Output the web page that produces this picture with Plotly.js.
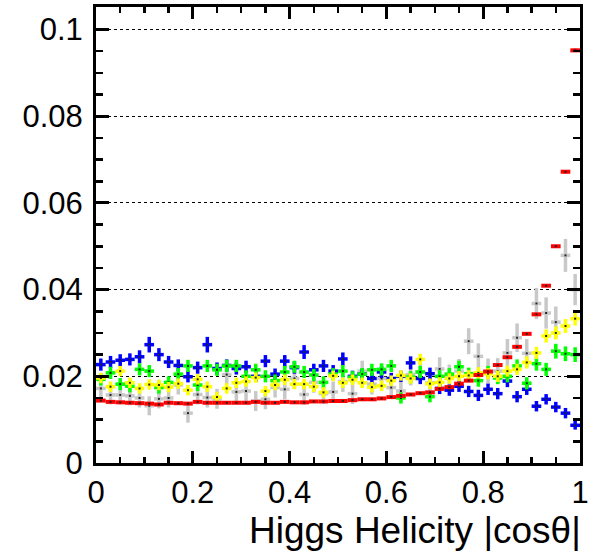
<!DOCTYPE html>
<html>
<head>
<meta charset="utf-8">
<script src="https://cdn.plot.ly/plotly-3.0.1.min.js"></script>
<style>html,body{margin:0;padding:0;background:#fff;}#chart{width:590px;height:554px;}</style>
</head>
<body>
<div id="chart"></div>
<script>
// Bin centres of |cos theta| (50 bins of width 0.02)
const binCentres = [0.01,0.03,0.05,0.07,0.09,0.11,0.13,0.15,0.17,0.19,
  0.21,0.23,0.25,0.27,0.29,0.31,0.33,0.35,0.37,0.39,
  0.41,0.43,0.45,0.47,0.49,0.51,0.53,0.55,0.57,0.59,
  0.61,0.63,0.65,0.67,0.69,0.71,0.73,0.75,0.77,0.79,
  0.81,0.83,0.85,0.87,0.89,0.91,0.93,0.95,0.97,0.99];

const redValues = [0.0144,0.0141,0.0140,0.0139,0.0138,0.0137,0.0135,0.0139,0.0138,0.0137,
  0.0141,0.0139,0.0139,0.0139,0.0139,0.0139,0.0141,0.0139,0.0139,0.0141,
  0.0140,0.0140,0.0142,0.0142,0.0143,0.0143,0.0145,0.0147,0.0147,0.0149,
  0.0152,0.0155,0.0158,0.0161,0.0163,0.0171,0.0175,0.0183,0.0190,0.0203,
  0.0211,0.0226,0.0244,0.0268,0.0298,0.0343,0.0409,0.0500,0.0672,0.0952];
const redErrors = [0.0002,0.0002,0.0002,0.0002,0.0002,0.0002,0.0002,0.0002,0.0002,0.0002,
  0.0002,0.0002,0.0002,0.0002,0.0002,0.0002,0.0002,0.0002,0.0002,0.0002,
  0.0002,0.0002,0.0002,0.0002,0.0002,0.0002,0.0002,0.0002,0.0002,0.0002,
  0.0002,0.0002,0.0002,0.0002,0.0002,0.0002,0.0002,0.0002,0.0002,0.0002,
  0.0002,0.0002,0.0002,0.0003,0.0003,0.0003,0.0003,0.0003,0.0004,0.0004];

const grayValues = [0.0172,0.0157,0.0157,0.0155,0.0150,0.0132,0.0148,0.0150,0.0180,0.0115,
  0.0158,0.0151,0.0148,0.0204,0.0164,0.0166,0.0143,0.0147,0.0174,0.0170,
  0.0195,0.0158,0.0186,0.0160,0.0164,0.0188,0.0160,0.0212,0.0182,0.0195,
  0.0174,0.0166,0.0204,0.0210,0.0185,0.0217,0.0200,0.0212,0.0281,0.0246,
  0.0211,0.0212,0.0254,0.0289,0.0253,0.0368,0.0346,0.0325,0.0479,0.0400];
const grayErrors = [0.0022,0.0022,0.0022,0.0022,0.0022,0.0022,0.0022,0.0022,0.0022,0.0022,
  0.0023,0.0023,0.0023,0.0023,0.0023,0.0023,0.0023,0.0023,0.0023,0.0023,
  0.0024,0.0024,0.0024,0.0024,0.0024,0.0024,0.0024,0.0024,0.0024,0.0024,
  0.0025,0.0025,0.0025,0.0026,0.0026,0.0027,0.0027,0.0028,0.0030,0.0030,
  0.0030,0.0030,0.0032,0.0033,0.0033,0.0036,0.0036,0.0036,0.0038,0.0036];

const blueValues = [0.0227,0.0233,0.0237,0.0239,0.0245,0.0273,0.0250,0.0233,0.0225,0.0199,
  0.0220,0.0273,0.0218,0.0225,0.0218,0.0222,0.0200,0.0235,0.0205,0.0235,
  0.0220,0.0256,0.0215,0.0224,0.0212,0.0240,0.0200,0.0205,0.0195,0.0210,
  0.0195,0.0200,0.0231,0.0195,0.0206,0.0172,0.0168,0.0177,0.0165,0.0156,
  0.0170,0.0160,0.0189,0.0153,0.0170,0.0131,0.0147,0.0129,0.0115,0.0087];
const blueErrors = [0.0014,0.0014,0.0014,0.0014,0.0015,0.0018,0.0015,0.0014,0.0014,0.0013,
  0.0014,0.0018,0.0014,0.0014,0.0014,0.0014,0.0013,0.0014,0.0013,0.0014,
  0.0014,0.0016,0.0014,0.0014,0.0014,0.0015,0.0013,0.0013,0.0013,0.0014,
  0.0013,0.0013,0.0015,0.0013,0.0014,0.0013,0.0013,0.0013,0.0013,0.0013,
  0.0013,0.0013,0.0014,0.0013,0.0013,0.0012,0.0012,0.0012,0.0012,0.0010];

const greenValues = [0.0193,0.0208,0.0182,0.0177,0.0216,0.0212,0.0174,0.0186,0.0205,0.0224,
  0.0180,0.0224,0.0215,0.0224,0.0224,0.0200,0.0215,0.0200,0.0190,0.0210,
  0.0222,0.0210,0.0203,0.0186,0.0205,0.0212,0.0198,0.0205,0.0215,0.0216,
  0.0224,0.0150,0.0198,0.0210,0.0153,0.0200,0.0205,0.0222,0.0206,0.0190,
  0.0210,0.0196,0.0200,0.0224,0.0184,0.0229,0.0216,0.0258,0.0252,0.0250];
const greenErrors = [0.0014,0.0014,0.0014,0.0014,0.0014,0.0014,0.0014,0.0014,0.0014,0.0014,
  0.0014,0.0014,0.0014,0.0014,0.0014,0.0014,0.0014,0.0014,0.0014,0.0014,
  0.0014,0.0014,0.0014,0.0014,0.0014,0.0014,0.0014,0.0014,0.0014,0.0014,
  0.0014,0.0013,0.0014,0.0014,0.0013,0.0014,0.0014,0.0014,0.0014,0.0014,
  0.0014,0.0014,0.0014,0.0015,0.0014,0.0016,0.0015,0.0017,0.0017,0.0017];

const yellowValues = [0.0196,0.0176,0.0212,0.0185,0.0172,0.0181,0.0180,0.0175,0.0183,0.0168,
  0.0193,0.0176,0.0152,0.0172,0.0185,0.0188,0.0197,0.0166,0.0180,0.0192,
  0.0182,0.0182,0.0176,0.0163,0.0201,0.0185,0.0192,0.0185,0.0175,0.0178,
  0.0190,0.0202,0.0195,0.0239,0.0183,0.0186,0.0195,0.0200,0.0202,0.0208,
  0.0206,0.0200,0.0212,0.0216,0.0232,0.0254,0.0293,0.0300,0.0316,0.0333];
const yellowErrors = [0.0012,0.0012,0.0012,0.0012,0.0012,0.0012,0.0012,0.0012,0.0012,0.0012,
  0.0012,0.0012,0.0012,0.0012,0.0012,0.0012,0.0012,0.0012,0.0012,0.0012,
  0.0012,0.0012,0.0012,0.0012,0.0012,0.0012,0.0012,0.0012,0.0012,0.0012,
  0.0012,0.0012,0.0012,0.0013,0.0012,0.0012,0.0012,0.0012,0.0012,0.0013,
  0.0013,0.0013,0.0013,0.0013,0.0014,0.0014,0.0015,0.0015,0.0016,0.0016];

const yTickVals = [0, 0.02, 0.04, 0.06, 0.08, 0.1];
const yTickText = ['0', '0.02', '0.04', '0.06', '0.08', '0.1'];
const xTickVals = [0, 0.2, 0.4, 0.6, 0.8, 1];
const xTickText = ['0', '0.2', '0.4', '0.6', '0.8', '1'];
const xTitle = 'Higgs Helicity |cosθ|';

function series(values, errors, colour, thick) {
  return {
    type: 'scatter', mode: 'markers',
    x: binCentres, y: values,
    marker: {size: 2, color: '#222', symbol: 'square'},
    error_y: {type: 'data', array: errors, visible: true, color: colour, thickness: thick, width: 0},
    error_x: {type: 'constant', value: 0.01, visible: true, color: colour, thickness: thick, width: 0},
    hoverinfo: 'x+y', showlegend: false
  };
}

const data = [
  series(grayValues, grayErrors, '#c8c8c8', 3.5),
  series(blueValues, blueErrors, '#0000ff', 3.5),
  series(greenValues, greenErrors, '#00ff00', 3.5),
  series(yellowValues, yellowErrors, '#ffff00', 3.5),
  series(redValues, redErrors, '#ff0000', 4)
];

const font = {family: 'Liberation Sans, Arial, sans-serif', size: 31, color: '#000'};

const layout = {
  width: 590, height: 554,
  margin: {l: 96, r: 10, t: 7, b: 91},
  paper_bgcolor: '#fff', plot_bgcolor: '#fff',
  font: font,
  xaxis: {
    range: [0, 1], tickvals: xTickVals, ticktext: xTickText,
    ticks: 'inside', ticklen: 12, tickwidth: 3, tickcolor: '#000',
    showline: true, linewidth: 3, linecolor: '#000', mirror: 'ticks',
    showgrid: false, zeroline: false, ticklabelstandoff: 0,
    minor: {dtick: 0.05, tick0: 0, ticks: 'inside', ticklen: 6, tickwidth: 2.5, tickcolor: '#000', showgrid: false},
    tickfont: font
  },
  yaxis: {
    range: [0, 0.1052], tickvals: yTickVals, ticktext: yTickText,
    ticks: 'inside', ticklen: 13, tickwidth: 3, tickcolor: '#000',
    showline: true, linewidth: 3, linecolor: '#000', mirror: 'ticks',
    showgrid: true, gridcolor: '#000', gridwidth: 1, griddash: 'dot',
    zeroline: false, ticklabelstandoff: 4,
    minor: {dtick: 0.005, tick0: 0, ticks: 'inside', ticklen: 7, tickwidth: 2.5, tickcolor: '#000', showgrid: false},
    tickfont: font
  },
  annotations: [{
    text: xTitle, xref: 'paper', yref: 'paper', x: 1, y: 0,
    xanchor: 'right', yanchor: 'top', yshift: -45, xshift: 3,
    showarrow: false, font: {family: 'Liberation Sans, Arial, sans-serif', size: 37, color: '#000'}
  }]
};

Plotly.newPlot('chart', data, layout, {staticPlot: true, displayModeBar: false});
</script>
</body>
</html>
